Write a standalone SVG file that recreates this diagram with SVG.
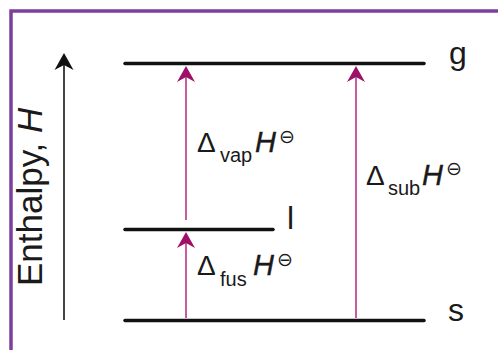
<svg xmlns="http://www.w3.org/2000/svg" width="498" height="350" viewBox="0 0 498 350">
  <style>
    text { font-family: "Liberation Sans", Arial, sans-serif; fill: #1a1a1a; }
    .level { stroke: #111; stroke-width: 3.5; stroke-linecap: round; fill: none; }
    .state { font-size: 32px; }
    .trans { stroke: #C85CA2; stroke-width: 2; fill: none; marker-end: url(#pinkhead); }
    .axisline { stroke: #444; stroke-width: 2; fill: none; marker-end: url(#blackhead); }
    .d { font-size: 28px; }
    .sb { font-size: 20px; }
    .h { font-size: 29px; font-style: italic; stroke: #1a1a1a; stroke-width: 0.4px; }
    .sp { font-size: 19px; font-family: "DejaVu Sans", sans-serif; }
  </style>
  <defs>
    <marker id="pinkhead" markerUnits="userSpaceOnUse" viewBox="-16 -10 20 20" markerWidth="20" markerHeight="20" refX="-10" refY="0" orient="auto">
      <path d="M0,0 L-16,-9 L-11,0 L-16,9 Z" fill="#9E0F68"/>
    </marker>
    <marker id="blackhead" markerUnits="userSpaceOnUse" viewBox="-18 -11 22 22" markerWidth="22" markerHeight="22" refX="-10" refY="0" orient="auto">
      <path d="M0,0 L-17,-9.5 L-12,0 L-17,9.5 Z" fill="#111"/>
    </marker>
  </defs>

  <rect x="0" y="0" width="498" height="350" fill="#fff"/>
  <g id="frame">
    <path d="M11,350 V11 H498" fill="none" stroke="#7B3F9E" stroke-width="3.5"/>
  </g>

  <g id="axis">
    <path class="axisline" d="M64,320 V63"/>
    <text x="42" y="286" font-size="35" transform="rotate(-90 42 286)">Enthalpy, <tspan font-style="italic">H</tspan></text>
  </g>

  <g id="level-g">
    <line class="level" x1="125" y1="63.5" x2="424" y2="63.5"/>
    <text class="state" x="449" y="64">g</text>
  </g>
  <g id="level-l">
    <line class="level" x1="125" y1="229.5" x2="273" y2="229.5"/>
    <text class="state" x="287" y="229">l</text>
  </g>
  <g id="level-s">
    <line class="level" x1="125" y1="320.5" x2="424" y2="320.5"/>
    <text class="state" x="448" y="321">s</text>
  </g>

  <g id="connectors">
    <path id="arrow-vap" class="trans" d="M186,220 V76"/>
    <path id="arrow-fus" class="trans" d="M186,318 V242"/>
    <path id="arrow-sub" class="trans" d="M356,318 V76"/>
  </g>

  <g id="label-vap">
    <text><tspan class="d" x="197" y="152">Δ</tspan><tspan class="sb" x="220" y="162">vap</tspan><tspan class="h" x="255" y="152">H</tspan><tspan class="sp" x="279" y="143">⊖</tspan></text>
  </g>
  <g id="label-fus">
    <text><tspan class="d" x="197" y="275">Δ</tspan><tspan class="sb" x="220" y="286">fus</tspan><tspan class="h" x="253" y="275">H</tspan><tspan class="sp" x="277" y="266">⊖</tspan></text>
  </g>
  <g id="label-sub">
    <text><tspan class="d" x="366" y="185">Δ</tspan><tspan class="sb" x="388" y="195">sub</tspan><tspan class="h" x="422" y="185">H</tspan><tspan class="sp" x="446" y="175">⊖</tspan></text>
  </g>
</svg>
